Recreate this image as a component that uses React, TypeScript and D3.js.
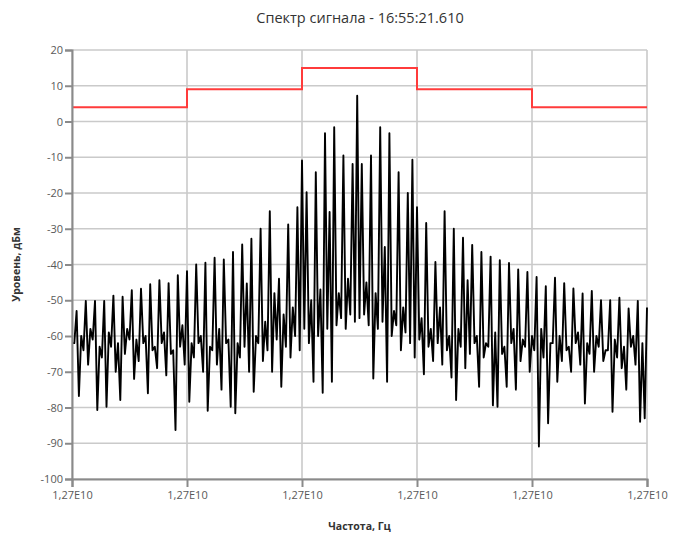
import React, { useRef, useEffect } from "react";
import * as d3 from "d3";

const WIDTH = 673;
const HEIGHT = 534;

// main comb lines, dBm, left to right (one per comb spacing)
const combPeaks = [
  -53, -50.2, -50.2, -50.2, -48.7, -49, -47.2, -46.8, -45.5, -44.4,
  -45.2, -43, -41.9, -40, -39.5, -38.1, -38.6, -36.5, -34.4, -32.8,
  -30, -25.1, -44, -28.8, -24, -19.8, -14.2, -3.3, -1.6, -9.5,
  -11.9, -11.9, -9.5, -1.6, -3.3, -14.2, -20, -24, -28.4, -39.3,
  -25.1, -30, -32.5, -34.5, -36.5, -37.8, -38.8, -39.6, -41.4, -42.1,
  -43.5, -46.1, -43.7, -45.2, -46.7, -48.1, -47.4, -50, -50, -49.3,
  -52.3, -50.2, -52,
];

// samples halfway between comb lines (carrier and side lines near centre)
const halfLines = [
  -62, -60, -58, -63, -59, -62, -58, -61, -60, -63,
  -59, -64, -57, -62, -60, -63, -58, -61, -62, -45.3,
  -60, -56, -48, -54, -52, -10.9, -50, -47, -25.3, -48,
  -44, 7.2, -45, -48, -35.1, -53, -52, -10.7, -55, -58,
  -52, -60, -58, -44.4, -60, -62, -59, -63, -58, -61,
  -60, -58, -62, -60, -63, -59, -62, -60, -64, -61,
  -63, -60, -62,
];

// noise floor samples on either side of every line
const noise = [
  -62, -76.8, -64, -68, -61, -80.7, -66, -79.8, -63, -70,
  -77.9, -65, -61, -72, -67, -62, -76, -64, -69, -62,
  -71, -65, -86.3, -63, -68, -78.4, -66, -62, -70, -80.9,
  -64, -68, -75, -62, -79.8, -81.6, -66, -63, -70, -75.6,
  -62, -67, -64, -70, -61, -74.2, -63, -66, -60, -64,
  -58, -62, -72.8, -60, -75.9, -58, -72.8, -57, -55, -58,
  -54, -56, -55, -54, -57, -71.9, -58, -56, -72.8, -60,
  -57, -64, -59, -62, -66, -61, -70.7, -63, -67, -62,
  -68, -64, -71.6, -77.9, -63, -69, -65, -62, -74.2, -66,
  -63, -79.4, -79.8, -65, -74.2, -62, -75, -67, -63, -70,
  -64, -90.9, -66, -84.4, -62, -72.8, -67, -64, -70, -62,
  -68, -78.9, -65, -70, -63, -67, -64, -81.2, -66, -69,
  -75, -63, -68, -84, -83,
];

// limit mask, dBm per grid column
const maskLevels = [4, 9, 15, 9, 4];

// frequency grid, MHz
const freqStart = 12668.75;
const freqStep = 0.25;
const freqTicks = [12668.75, 12681.25, 12693.75, 12706.25, 12718.75, 12731.25];
const levelTicks = [20, 10, 0, -10, -20, -30, -40, -50, -60, -70, -80, -90, -100];

const title = "Спектр сигнала - 16:55:21.610";
const xTitle = "Частота, Гц";
const yTitle = "Уровень, дБм";

const FONT = "'Open Sans', sans-serif";

function Spectrum() {
  const svgRef = useRef<SVGSVGElement>(null);

  useEffect(() => {
    const svg = d3.select(svgRef.current);
    svg.selectAll("*").remove();

    const x = d3.scaleLinear().domain([freqTicks[0], freqTicks[freqTicks.length - 1]]).range([72, 647]);
    const y = d3.scaleLinear().domain([-100, 20]).range([479, 50]);
    const [x0, x1] = x.range();
    const [y0, y1] = y.range();

    // trace: comb line, noise, half line, noise ...
    const n = combPeaks.length * 4 - 1;
    const trace = d3.range(n).map(s => {
      let v;
      if (s % 4 === 2) v = combPeaks[(s - 2) / 4];
      else if (s % 4 === 0) v = halfLines[s / 4];
      else v = noise[(s - 1) / 2];
      return { f: freqStart + s * freqStep, v };
    });

    // grid
    const grid = svg.append("g");
    grid.selectAll(".h").data(levelTicks).join("line")
      .attr("x1", x0).attr("x2", x1)
      .attr("y1", d => y(d)).attr("y2", d => y(d))
      .attr("stroke", "#cacaca").attr("stroke-width", 1.6);
    grid.selectAll(".v").data(freqTicks).join("line")
      .attr("x1", d => x(d)).attr("x2", d => x(d))
      .attr("y1", y0).attr("y2", y1)
      .attr("stroke", "#cacaca").attr("stroke-width", 1.6);

    // mask
    const maskPts = freqTicks.map((f, i) => ({ f, v: maskLevels[Math.min(i, maskLevels.length - 1)] }));
    svg.append("path")
      .attr("d", d3.line<any>().x(d => x(d.f)).y(d => y(d.v)).curve(d3.curveStepAfter)(maskPts))
      .attr("fill", "none")
      .attr("stroke", "#ff3b3b")
      .attr("stroke-width", 2);

    // spectrum
    svg.append("path")
      .attr("d", d3.line<any>().x(d => x(d.f)).y(d => y(d.v))(trace))
      .attr("fill", "none")
      .attr("stroke", "#000")
      .attr("stroke-width", 1.9)
      .attr("stroke-linejoin", "round");

    // axes
    const fmt = (v: number) => d3.format(".2e")(v * 1e6).replace(".", ",").replace("e+", "E");
    const yAxis = svg.append("g")
      .attr("transform", `translate(${x0},0)`)
      .call(d3.axisLeft(y).tickValues(levelTicks).tickSize(7).tickPadding(2).tickFormat(d => String(d)));
    const xAxis = svg.append("g")
      .attr("transform", `translate(0,${y0})`)
      .call(d3.axisBottom(x).tickValues(freqTicks).tickSize(8).tickPadding(2).tickFormat(d => fmt(+d)));

    [yAxis, xAxis].forEach(g => {
      g.select(".domain").attr("stroke", "#8a8a8a").attr("stroke-width", 2);
      g.selectAll(".tick line").attr("stroke", "#8a8a8a").attr("stroke-width", 2);
      g.selectAll(".tick text")
        .attr("fill", "#595959")
        .style("font-family", FONT)
        .style("font-size", "11px");
    });
    xAxis.selectAll(".tick text").attr("dy", "0.9em");

    // titles
    svg.append("text")
      .attr("x", 360).attr("y", 23)
      .attr("text-anchor", "middle")
      .style("font-family", FONT).style("font-size", "14.5px")
      .attr("fill", "#333")
      .text(title);
    svg.append("text")
      .attr("x", (x0 + x1) / 2).attr("y", 530)
      .attr("text-anchor", "middle")
      .style("font-family", FONT).style("font-size", "10.5px").style("font-weight", "bold")
      .attr("fill", "#333")
      .text(xTitle);
    svg.append("text")
      .attr("transform", `translate(20,${(y0 + y1) / 2}) rotate(-90)`)
      .attr("text-anchor", "middle")
      .style("font-family", FONT).style("font-size", "10.5px").style("font-weight", "bold")
      .attr("fill", "#333")
      .text(yTitle);
  }, []);

  return (
    <svg
      ref={svgRef}
      width={WIDTH}
      height={HEIGHT}
      style={{ position: "absolute", left: 0, top: 0, background: "#fff" }}
    />
  );
}

export default function App() {
  return <Spectrum />;
}
